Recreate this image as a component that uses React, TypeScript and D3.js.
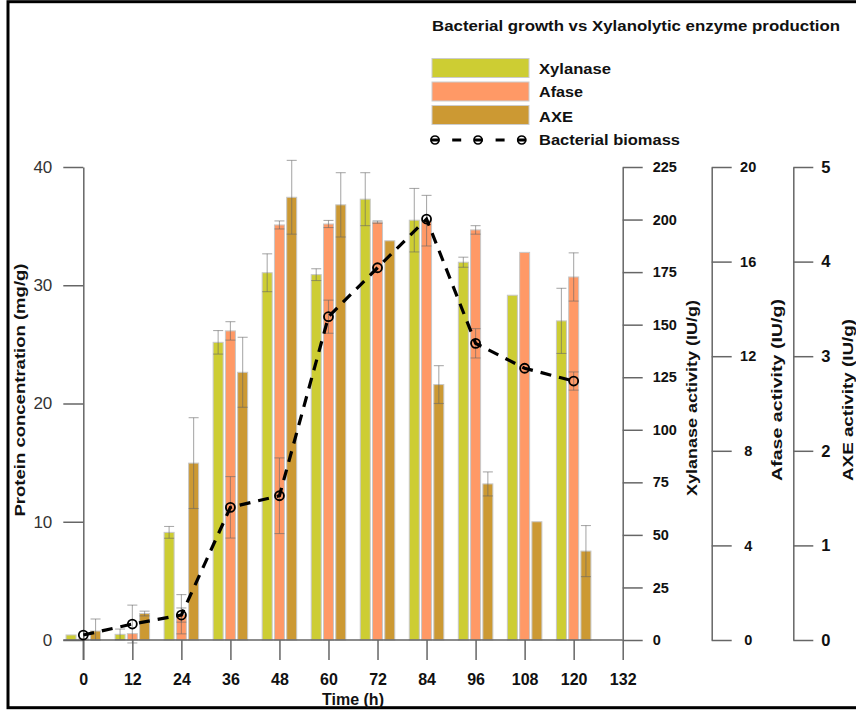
import React, { useEffect, useRef } from "react";
import * as d3 from "d3";

// Sampling times (h)
const times = [0, 12, 24, 36, 48, 60, 72, 84, 96, 108, 120];

// Enzyme activities (IU/g) with standard deviations
const xylanase = [2.4, 2.7, 51.2, 141.6, 174.7, 173.8, 209.7, 199.7, 179.7, 164.0, 151.8];
const xylanaseErr = [0, 2.5, 2.8, 5.6, 9.0, 2.8, 12.6, 15.1, 2.4, 0, 15.5];
const afase = [0.05, 0.27, 1.09, 13.07, 17.55, 17.59, 17.67, 17.73, 17.34, 16.39, 15.35];
const afaseErr = [0, 0, 0.83, 0.39, 0.17, 0.15, 0.05, 1.07, 0.18, 0, 1.02];
const axe = [0.095, 0.28, 1.87, 2.83, 4.68, 4.6, 4.22, 2.7, 1.65, 1.25, 0.94];
const axeErr = [0.127, 0.025, 0.48, 0.37, 0.39, 0.34, 0, 0.2, 0.127, 0, 0.27];

// Bacterial biomass on the protein concentration axis (mg/g)
const biomass = [0.42, 1.35, 2.11, 11.22, 12.2, 27.34, 31.48, 35.6, 25.09, 22.98, 21.9];
const biomassErr = [0, 1.6, 0.6, 2.6, 3.2, 1.4, 0, 0, 1.24, 0, 0.77];

// Axis ticks
const timeTicks = [0, 12, 24, 36, 48, 60, 72, 84, 96, 108, 120, 132];
const timeMinor = [6, 18, 30, 42, 54, 66, 78, 90, 102, 114, 126];
const proteinTicks = [0, 10, 20, 30, 40];
const proteinMinor = [5, 15, 25, 35];
const xylTicks = [0, 25, 50, 75, 100, 125, 150, 175, 200, 225];
const xylMinor = [12.5, 37.5, 62.5, 87.5, 112.5, 137.5, 162.5, 187.5, 212.5];
const afTicks = [0, 4, 8, 12, 16, 20];
const afMinor = [2, 6, 10, 14, 18];
const axeTicks = [0, 1, 2, 3, 4, 5];
const axeMinor = [0.5, 1.5, 2.5, 3.5, 4.5];

const seriesNames = ["Xylanase", "Afase", "AXE"];
const colors = ["#CDCD33", "#FF9966", "#CC9933"];

const FONT = "Arial, 'Liberation Sans', Helvetica, sans-serif";

export default function App() {
  const ref = useRef<SVGSVGElement>(null);

  useEffect(() => {
    const svg = d3.select(ref.current);
    svg.selectAll("*").remove();

    const top = 167;
    const bottom = 640;
    const x = d3.scaleLinear().domain([0, 132]).range([83.3, 622.7]);
    const yProt = d3.scaleLinear().domain([0, 40]).range([bottom, top]);
    const yXyl = d3.scaleLinear().domain([0, 225]).range([bottom, top]);
    const yAf = d3.scaleLinear().domain([0, 20]).range([bottom, top]);
    const yAxe = d3.scaleLinear().domain([0, 5]).range([bottom, top]);

    const axisColor = "#666";

    // frame
    svg.append("rect")
      .attr("x", 8).attr("y", 1.7).attr("width", 900).attr("height", 706)
      .attr("fill", "none").attr("stroke", "#000").attr("stroke-width", 3);

    const styleAxis = (g: any) => {
      g.selectAll("path.domain").attr("stroke", axisColor).attr("stroke-width", 1.5);
      g.selectAll(".tick line").attr("stroke", axisColor).attr("stroke-width", 1.5);
      g.attr("font-family", FONT);
    };

    // bars
    const groups = [
      { vals: xylanase, errs: xylanaseErr, y: yXyl, off: -3 },
      { vals: afase, errs: afaseErr, y: yAf, off: 0 },
      { vals: axe, errs: axeErr, y: yAxe, off: 3 },
    ];
    const bw = x(2.45) - x(0);
    groups.forEach((s, si) => {
      svg.append("g").selectAll("rect").data(times).join("rect")
        .attr("x", (t) => x(t + s.off) - bw / 2)
        .attr("y", (_, i) => s.y(s.vals[i]))
        .attr("width", bw)
        .attr("height", (_, i) => bottom - s.y(s.vals[i]))
        .attr("fill", colors[si])
        .attr("stroke", "#c8c8c8")
        .attr("stroke-width", 1);
    });

    // error bars
    const errG = svg.append("g").attr("stroke", "#666").attr("stroke-opacity", 0.55).attr("stroke-width", 1.1);
    const drawErr = (cx: number, y0: number, y1: number, cap: number) => {
      errG.append("line").attr("x1", cx).attr("x2", cx).attr("y1", y0).attr("y2", y1);
      errG.append("line").attr("x1", cx - cap / 2).attr("x2", cx + cap / 2).attr("y1", y0).attr("y2", y0);
      errG.append("line").attr("x1", cx - cap / 2).attr("x2", cx + cap / 2).attr("y1", y1).attr("y2", y1);
    };
    groups.forEach((s) => {
      times.forEach((t, i) => {
        const e = s.errs[i];
        if (e > 0) drawErr(x(t + s.off), s.y(s.vals[i] + e), s.y(Math.max(0, s.vals[i] - e)), bw);
      });
    });
    times.forEach((t, i) => {
      const e = biomassErr[i];
      if (e > 0) drawErr(x(t), yProt(biomass[i] + e), yProt(biomass[i] - e), bw);
    });

    // left axis (protein)
    const gL = svg.append("g").attr("transform", `translate(${x(0)},0)`);
    gL.call(d3.axisLeft(yProt).tickValues(proteinMinor).tickSize(10).tickSizeOuter(0).tickFormat(() => ""));
    gL.call(d3.axisLeft(yProt).tickValues(proteinTicks).tickSize(20).tickPadding(11).tickSizeOuter(0));
    styleAxis(gL);
    gL.selectAll(".tick text").attr("font-size", 17).attr("fill", "#333");
    gL.append("line").attr("x1", 0).attr("x2", 0).attr("y1", bottom).attr("y2", bottom + 20)
      .attr("stroke", axisColor).attr("stroke-width", 1.5);

    // bottom axis (time)
    const gB = svg.append("g").attr("transform", `translate(0,${bottom})`);
    gB.call(d3.axisBottom(x).tickValues(timeMinor).tickSize(10).tickSizeOuter(0).tickFormat(() => ""));
    gB.call(d3.axisBottom(x).tickValues(timeTicks).tickSize(20).tickPadding(14).tickSizeOuter(0));
    styleAxis(gB);
    gB.selectAll("path.domain").remove();
    gB.append("line").attr("x1", x(0) - 20).attr("x2", x(132)).attr("y1", 0).attr("y2", 0)
      .attr("stroke", axisColor).attr("stroke-width", 1.5);
    gB.selectAll(".tick text").attr("font-size", 16).attr("font-weight", "bold").attr("fill", "#111");

    // right axes
    const rightAxis = (pos: number, scale: any, major: number[], minor: number[], fs: number, labelX: number | null) => {
      const g = svg.append("g").attr("transform", `translate(${pos},0)`);
      g.call(d3.axisRight(scale).tickValues(minor).tickSize(10).tickSizeOuter(0).tickFormat(() => ""));
      g.call(d3.axisRight(scale).tickValues(major).tickSize(20).tickPadding(10).tickSizeOuter(0).tickFormat(d3.format("d")));
      styleAxis(g);
      const txt = g.selectAll(".tick text").attr("font-size", fs).attr("font-weight", "bold").attr("fill", "#111");
      if (labelX !== null) txt.attr("x", labelX).attr("text-anchor", "middle");
      return g;
    };
    rightAxis(x(132), yXyl, xylTicks, xylMinor, 14.5, null);
    rightAxis(711.7, yAf, afTicks, afMinor, 14.5, 36.5);
    rightAxis(793.3, yAxe, axeTicks, axeMinor, 16.5, 32.5);

    // axis titles
    const vTitle = (tx: number, ty: number, label: string, len: number) => {
      svg.append("text")
        .attr("transform", `translate(${tx},${ty}) rotate(-90)`)
        .attr("text-anchor", "middle")
        .attr("font-family", FONT).attr("font-weight", "bold").attr("font-size", 15.5)
        .attr("textLength", len).attr("lengthAdjust", "spacingAndGlyphs")
        .attr("fill", "#111")
        .text(label);
    };
    vTitle(25, 390, "Protein concentration (mg/g)", 253);
    vTitle(697, 398, "Xylanase activity (IU/g)", 196);
    vTitle(782, 390, "Afase activity (IU/g)", 182);
    vTitle(853, 400, "AXE activity (IU/g)", 162);

    svg.append("text")
      .attr("x", x(66)).attr("y", 705).attr("text-anchor", "middle")
      .attr("font-family", FONT).attr("font-weight", "bold").attr("font-size", 16).attr("fill", "#111")
      .text("Time (h)");

    // biomass line
    const line = d3.line<number>().x((t) => x(t)).y((_, i) => yProt(biomass[i]));
    svg.append("path").datum(times).attr("d", line)
      .attr("fill", "none").attr("stroke", "#000").attr("stroke-width", 3.2)
      .attr("stroke-dasharray", "11,8");
    svg.append("g").selectAll("circle").data(times).join("circle")
      .attr("cx", (t) => x(t)).attr("cy", (_, i) => yProt(biomass[i]))
      .attr("r", 4.5).attr("fill", "none").attr("stroke", "#000").attr("stroke-width", 1.8);

    // chart title
    svg.append("text")
      .attr("x", 432).attr("y", 30.7)
      .attr("font-family", FONT).attr("font-weight", "bold").attr("font-size", 15.5)
      .attr("textLength", 408).attr("lengthAdjust", "spacingAndGlyphs")
      .attr("fill", "#111")
      .text("Bacterial growth vs Xylanolytic enzyme production");

    // legend
    const leg = svg.append("g");
    const swY = [58.5, 82, 105.5];
    const txtY = [74, 97.3, 121.7];
    const txtLen = [72, 44, 34];
    seriesNames.forEach((name, i) => {
      leg.append("rect").attr("x", 432).attr("y", swY[i]).attr("width", 97).attr("height", 19)
        .attr("fill", colors[i]).attr("stroke", "#ccc").attr("stroke-width", 1);
      leg.append("text").attr("x", 539).attr("y", txtY[i])
        .attr("font-family", FONT).attr("font-weight", "bold").attr("font-size", 15.5)
        .attr("textLength", txtLen[i]).attr("lengthAdjust", "spacingAndGlyphs")
        .attr("fill", "#111").text(name);
    });
    leg.append("line").attr("x1", 430.5).attr("x2", 527).attr("y1", 140).attr("y2", 140)
      .attr("stroke", "#000").attr("stroke-width", 3).attr("stroke-dasharray", "9,12.7");
    [435, 478, 521.7].forEach((cx) => {
      leg.append("circle").attr("cx", cx).attr("cy", 140).attr("r", 4)
        .attr("fill", "none").attr("stroke", "#000").attr("stroke-width", 1.7);
    });
    leg.append("text").attr("x", 539).attr("y", 145)
      .attr("font-family", FONT).attr("font-weight", "bold").attr("font-size", 15.5)
      .attr("textLength", 141).attr("lengthAdjust", "spacingAndGlyphs")
      .attr("fill", "#111").text("Bacterial biomass");
  }, []);

  return (
    <svg
      ref={ref}
      width={856}
      height={712}
      style={{ position: "absolute", left: 0, top: 0, background: "#fff" }}
    />
  );
}
